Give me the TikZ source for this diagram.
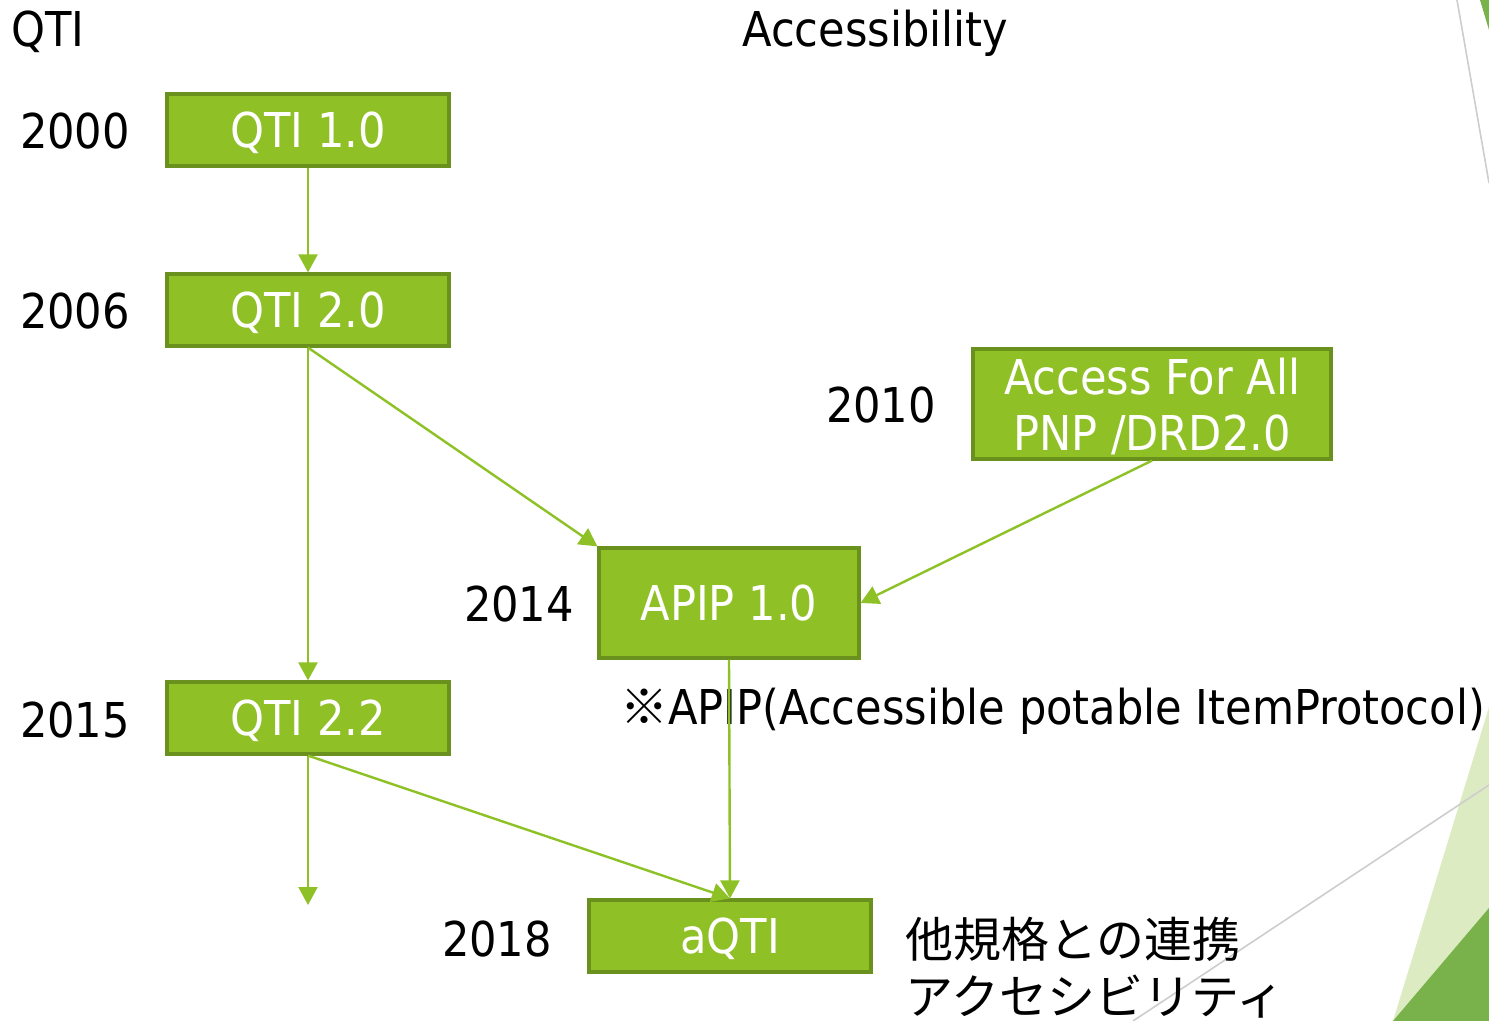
\documentclass[tikz,border=0pt]{standalone}
\usepackage{fontspec}
\setmainfont{DejaVu Sans Condensed}
\newfontfamily\jpfont{Noto Sans CJK JP}
\usetikzlibrary{arrows.meta}
\definecolor{specfill}{RGB}{143,192,38}
\definecolor{specborder}{RGB}{106,145,30}
\definecolor{linkgreen}{RGB}{141,193,38}
\definecolor{decolight}{RGB}{221,235,195}
\definecolor{decodark}{RGB}{121,178,74}
\definecolor{decogray}{RGB}{205,205,205}

\begin{document}
\begin{tikzpicture}[
    x=0.5pt, y=-0.5pt,
    >={Triangle[width=9.5pt,length=9pt]},
    big text/.style={font=\fontsize{24}{28}\selectfont},
    spec node/.style={big text,draw=specborder,line width=1.6pt,fill=specfill,text=white,align=center,inner sep=0pt,text depth=0pt},
    year label/.style={big text,anchor=base},
    version link/.style={->,linkgreen,line width=1.2pt},
    deco line/.style={decogray,line width=0.8pt}
    ]
    \useasboundingbox (0,0) rectangle (1489,1021);
    % background
    \fill [decolight] (1489,707) -- (1393,1021) -- (1489,1021) -- cycle;
    \fill [decodark] (1489,908) -- (1393,1021) -- (1489,1021) -- cycle;
    \fill [decodark] (1480,0) -- (1489,0) -- (1489,30) -- cycle;
    \draw [deco line] (1457,0) -- (1489,183);
    \draw [deco line] (1489,785) -- (1133,1021);
    % headings
    \node [big text,anchor=base west,inner sep=0pt] (qti head) at (11,47) {QTI};
    \node [big text,anchor=base west,inner sep=0pt] (access head) at (742,47) {Accessibility};
    % nodes
    % qti line
    \node [spec node,minimum width=141pt,minimum height=36pt] (qti10) at (308,130) {QTI 1.0};
    \node [spec node,minimum width=141pt,minimum height=36pt] (qti20) at (308,310) {QTI 2.0};
    \node [spec node,minimum width=141pt,minimum height=36pt] (qti22) at (308,718) {QTI 2.2};
    % accessibility line
    \node [spec node,minimum width=179pt,minimum height=55pt] (afa) at (1152,404) {Access For All\\PNP /DRD2.0};
    \node [spec node,minimum width=130pt,minimum height=55pt] (apip) at (729,603) {APIP 1.0};
    \node [spec node,minimum width=141pt,minimum height=36pt] (aqti) at (730,936) {aQTI};
    % years
    \node [year label] (y2000) at (75,149) {2000};
    \node [year label] (y2006) at (75,329) {2006};
    \node [year label] (y2010) at (881,423) {2010};
    \node [year label] (y2014) at (519,621) {2014};
    \node [year label] (y2015) at (75,737) {2015};
    \node [year label] (y2018) at (497,956) {2018};
    % notes
    \node [big text,anchor=base west,inner sep=0pt] (apip note) at (620,724) {{\jpfont ※}APIP(Accessible potable ItemProtocol)};
    \node [font=\fontsize{24}{28.5}\selectfont,anchor=north west,align=left,inner sep=0pt] (aqti note) at (905,917) {\jpfont 他規格との連携\\\jpfont アクセシビリティ};
    % edges
    \coordinate (qti next) at (308,905);
    \draw [version link] (qti10.south) -- (qti20.north);
    \draw [version link] (qti20.south) -- (qti22.north);
    \draw [version link] (qti20.south) -- (apip.north west);
    \draw [version link] (afa.south) -- (apip.east);
    \draw [version link] (apip.south) -- (aqti.north);
    \draw [version link] (qti22.south) -- (aqti.north);
    \draw [version link] (qti22.south) -- (qti next);
\end{tikzpicture}
\end{document}
